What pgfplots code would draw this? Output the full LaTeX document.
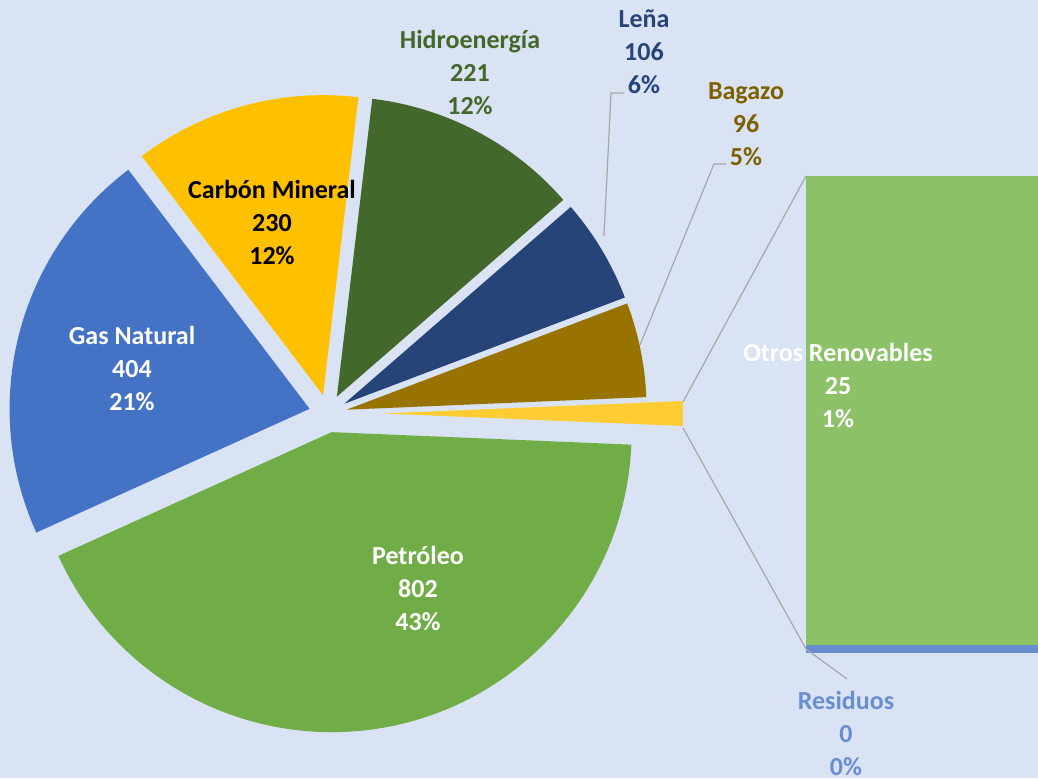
\documentclass[border=0pt]{standalone}
\usepackage{fontspec}
\setmainfont{Carlito}
\usepackage{pgfplots}
\usepackage{pgfplotstable}
\pgfplotsset{compat=1.18}
\definecolor{bg}{HTML}{DAE3F3}
\definecolor{petc}{HTML}{70AD47}
\definecolor{gasc}{HTML}{4472C4}
\definecolor{carc}{HTML}{FFC000}
\definecolor{hidc}{HTML}{43682B}
\definecolor{lenc}{HTML}{264478}
\definecolor{bagc}{HTML}{997300}
\definecolor{othc}{HTML}{FFCD33}
\definecolor{otrc}{HTML}{8CC168}
\definecolor{resc}{HTML}{698ED0}
\definecolor{bagtxt}{HTML}{7F6000}
\definecolor{leader}{HTML}{A6A6A6}

\pgfplotstableread{
name value explode color
Otros 25 55 othc
Petroleo 802 19 petc
GasNatural 404 19 gasc
Carbon 230 19 carc
Hidroenergia 221 19 hidc
Lena 106 19 lenc
Bagazo 96 19 bagc
}\piedata

\pgfplotstableread{
name value
Residuos 0.4
OtrosRenovables 24.6
}\bardata

\newcommand\lbl{\fontsize{19.5}{24.75}\selectfont\bfseries}

\begin{document}
\begin{tikzpicture}
\pgfplotstablegetrowsof{\piedata}
\pgfmathtruncatemacro\lastrow{\pgfplotsretval-1}
\xdef\pietotal{0}
\foreach \i in {0,...,\lastrow}{
  \pgfplotstablegetelem{\i}{value}\of{\piedata}
  \pgfmathsetmacro\t{\pietotal+\pgfplotsretval}
  \xdef\pietotal{\t}
}
\pgfplotstablegetelem{0}{value}\of{\piedata}
\pgfmathsetmacro\t{\pgfplotsretval/\pietotal*180}
\xdef\curangle{\t}
\foreach \i in {0,...,\lastrow}{
  \pgfplotstablegetelem{\i}{value}\of{\piedata}
  \pgfmathsetmacro\sweep{\pgfplotsretval/\pietotal*360}
  \pgfmathsetmacro\endang{\curangle-\sweep}
  \pgfmathsetmacro\midang{\curangle-\sweep/2}
  \pgfplotstablegetelem{\i}{explode}\of{\piedata}
  \pgfmathsetmacro\ax{328+\pgfplotsretval*cos(\midang)}
  \pgfmathsetmacro\ay{364.5+\pgfplotsretval*sin(\midang)}
  \pgfplotstablegetelem{\i}{color}\of{\piedata}
  \expandafter\xdef\csname pieC\i\endcsname{\pgfplotsretval}
  \expandafter\xdef\csname pieA\i\endcsname{\curangle}
  \expandafter\xdef\csname pieB\i\endcsname{\endang}
  \expandafter\xdef\csname pieX\i\endcsname{\ax}
  \expandafter\xdef\csname pieY\i\endcsname{\ay}
  \xdef\curangle{\endang}
}

\useasboundingbox (0,0) rectangle (778.5pt,583.5pt);
\fill[bg] (0,0) rectangle (778.5pt,583.5pt);

% bar of pie
\begin{axis}[at={(604.5pt,93.75pt)}, anchor=south west,
  width=180pt, height=357.75pt, scale only axis,
  xmin=0, xmax=1, ymin=0, ymax=25, hide axis,
  ybar stacked, bar width=180pt, bar shift=0pt, clip=false]
\addplot[fill=resc, draw=none] table[x expr=0.5, y=value, skip coords between index={1}{2}] {\bardata};
\addplot[fill=otrc, draw=none] table[x expr=0.5, y=value, skip coords between index={0}{1}] {\bardata};
\end{axis}

\begin{axis}[at={(0pt,0pt)}, anchor=south west, x=0.75pt, y=0.75pt,
  xmin=0, xmax=1038, ymin=0, ymax=778, hide axis, clip=false]
\pgfplotsinvokeforeach{0,...,6}{
  \fill[fill=\csname pieC#1\endcsname] (axis cs:\csname pieX#1\endcsname,\csname pieY#1\endcsname) -- ++(\csname pieA#1\endcsname:225pt) arc[start angle=\csname pieA#1\endcsname, end angle=\csname pieB#1\endcsname, radius=225pt] -- cycle;
}
\draw[leader, line width=0.9pt] (axis cs:604,542) -- (axis cs:611,685) -- (axis cs:624,685);
\draw[leader, line width=0.9pt] (axis cs:640,433) -- (axis cs:714,614) -- (axis cs:726,614);
\draw[leader, line width=0.9pt] (axis cs:806,129) -- (axis cs:847,99);
\draw[leader, line width=0.9pt] (axis cs:683,376) -- (axis cs:806,602);
\draw[leader, line width=0.9pt] (axis cs:683,350) -- (axis cs:806,129);

\node[align=center, text=white, font=\lbl] at (axis cs:418,190) {Petróleo\\802\\43\%};
\node[align=center, text=white, font=\lbl] at (axis cs:132,410) {Gas Natural\\404\\21\%};
\node[align=center, text=black, font=\lbl] at (axis cs:272,556) {Carbón Mineral\\230\\12\%};
\node[align=center, text=hidc, font=\lbl] at (axis cs:470,706) {Hidroenergía\\221\\12\%};
\node[align=center, text=lenc, font=\lbl] at (axis cs:644,726) {Leña\\106\\6\%};
\node[align=center, text=bagtxt, font=\lbl] at (axis cs:746,654) {Bagazo\\96\\5\%};
\node[align=center, text=white, font=\lbl] at (axis cs:838,393) {Otros Renovables\\25\\1\%};
\node[align=center, text=resc, font=\lbl] at (axis cs:846,45) {Residuos\\0\\0\%};
\end{axis}
\end{tikzpicture}
\end{document}
